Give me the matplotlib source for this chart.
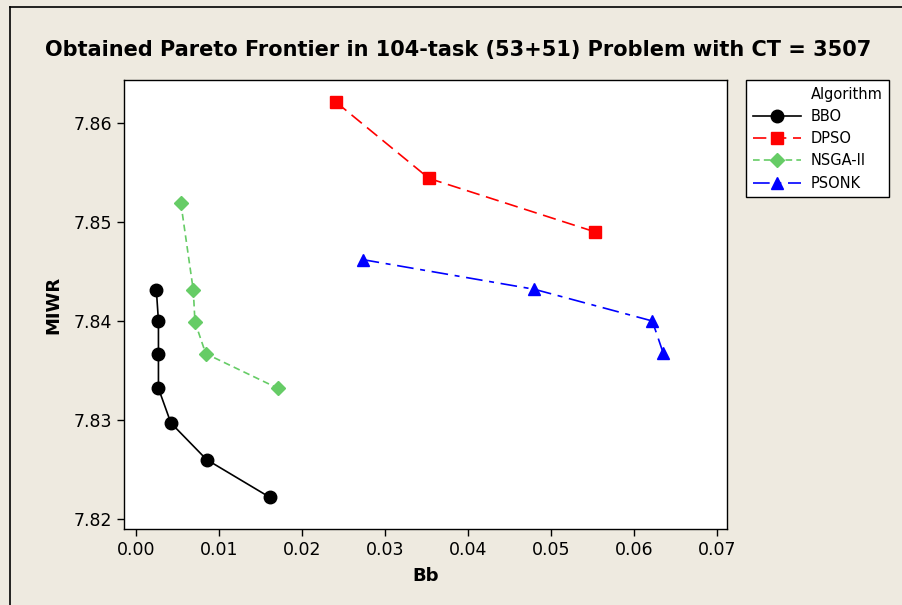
import matplotlib.pyplot as plt
from matplotlib.lines import Line2D

# data
bbo_x = [0.00245, 0.0027, 0.0027, 0.0027, 0.0042, 0.0085, 0.0161]
bbo_y = [7.8431, 7.8400, 7.8367, 7.8332, 7.8297, 7.8260, 7.8222]

dpso_x = [0.0241, 0.0353, 0.0553]
dpso_y = [7.8621, 7.8544, 7.8490]

nsga_x = [0.0054, 0.0069, 0.0071, 0.0084, 0.0171]
nsga_y = [7.8519, 7.8431, 7.8399, 7.8367, 7.8332]

psonk_x = [0.0273, 0.0480, 0.0622, 0.0635]
psonk_y = [7.8462, 7.8432, 7.8400, 7.8368]

xticks = [0.00, 0.01, 0.02, 0.03, 0.04, 0.05, 0.06, 0.07]
yticks = [7.82, 7.83, 7.84, 7.85, 7.86]

bg = "#EEEAE0"
green = "#66CC66"

plt.rcParams['font.family'] = ['DejaVu Sans']

fig = plt.figure(figsize=(9.02, 6.05), dpi=100, facecolor=bg)
ax = fig.add_axes([124/902, 1 - 529/605, (727-124)/902, (529-80)/605])

h1, = ax.plot(bbo_x, bbo_y, color="black", linestyle="-", linewidth=1.2,
              marker="o", markersize=9, label="BBO")
h2, = ax.plot(dpso_x, dpso_y, color="red", linestyle=(0, (8, 4)), linewidth=1.2,
              marker="s", markersize=8, label="DPSO")
h3, = ax.plot(nsga_x, nsga_y, color=green, linestyle=(0, (4, 2.5)), linewidth=1.2,
              marker="D", markersize=7.5, label="NSGA-II")
h4, = ax.plot(psonk_x, psonk_y, color="blue", linestyle=(0, (10, 4, 3, 4)), linewidth=1.2,
              marker="^", markersize=9, label="PSONK")

ax.set_xlim(-0.00145, 0.0712)
ax.set_ylim(7.81899, 7.86434)
ax.set_xticks(xticks)
ax.set_xticklabels(["%.2f" % v for v in xticks])
ax.set_yticks(yticks)
ax.set_yticklabels(["%.2f" % v for v in yticks])
ax.tick_params(direction="out", length=5, width=1, labelsize=12.5, color="black")
for s in ax.spines.values():
    s.set_linewidth(1)

ax.set_xlabel("Bb", fontsize=13, fontweight="bold", labelpad=6)
ax.set_ylabel("MIWR", fontsize=13, fontweight="bold", labelpad=8)

fig.suptitle("Obtained Pareto Frontier in 104-task (53+51) Problem with CT = 3507",
             x=0.508, y=1 - 50/605, va="center", fontsize=15, fontweight="bold")

# legend title as a row so it lines up with the labels
blank = Line2D([], [], linestyle="none")
leg = fig.legend([blank, h1, h2, h3, h4], ["Algorithm", "BBO", "DPSO", "NSGA-II", "PSONK"],
                 loc="upper left", bbox_to_anchor=(746/902, 1 - 80/605),
                 fontsize=10.5, frameon=True, fancybox=False, edgecolor="black",
                 framealpha=1, handlelength=3.3, borderpad=0.45, labelspacing=0.5,
                 handletextpad=0.7, borderaxespad=0)
leg.get_frame().set_linewidth(1)
leg.get_frame().set_facecolor("white")

# outer frame of the window (left and top edges)
fig.add_artist(Line2D([10/902, 10/902], [0, 1 - 7/605], color="black", linewidth=1.2))
fig.add_artist(Line2D([10/902, 1], [1 - 7/605, 1 - 7/605], color="black", linewidth=1.2))

fig.savefig("out.png", dpi=100, facecolor=bg)
